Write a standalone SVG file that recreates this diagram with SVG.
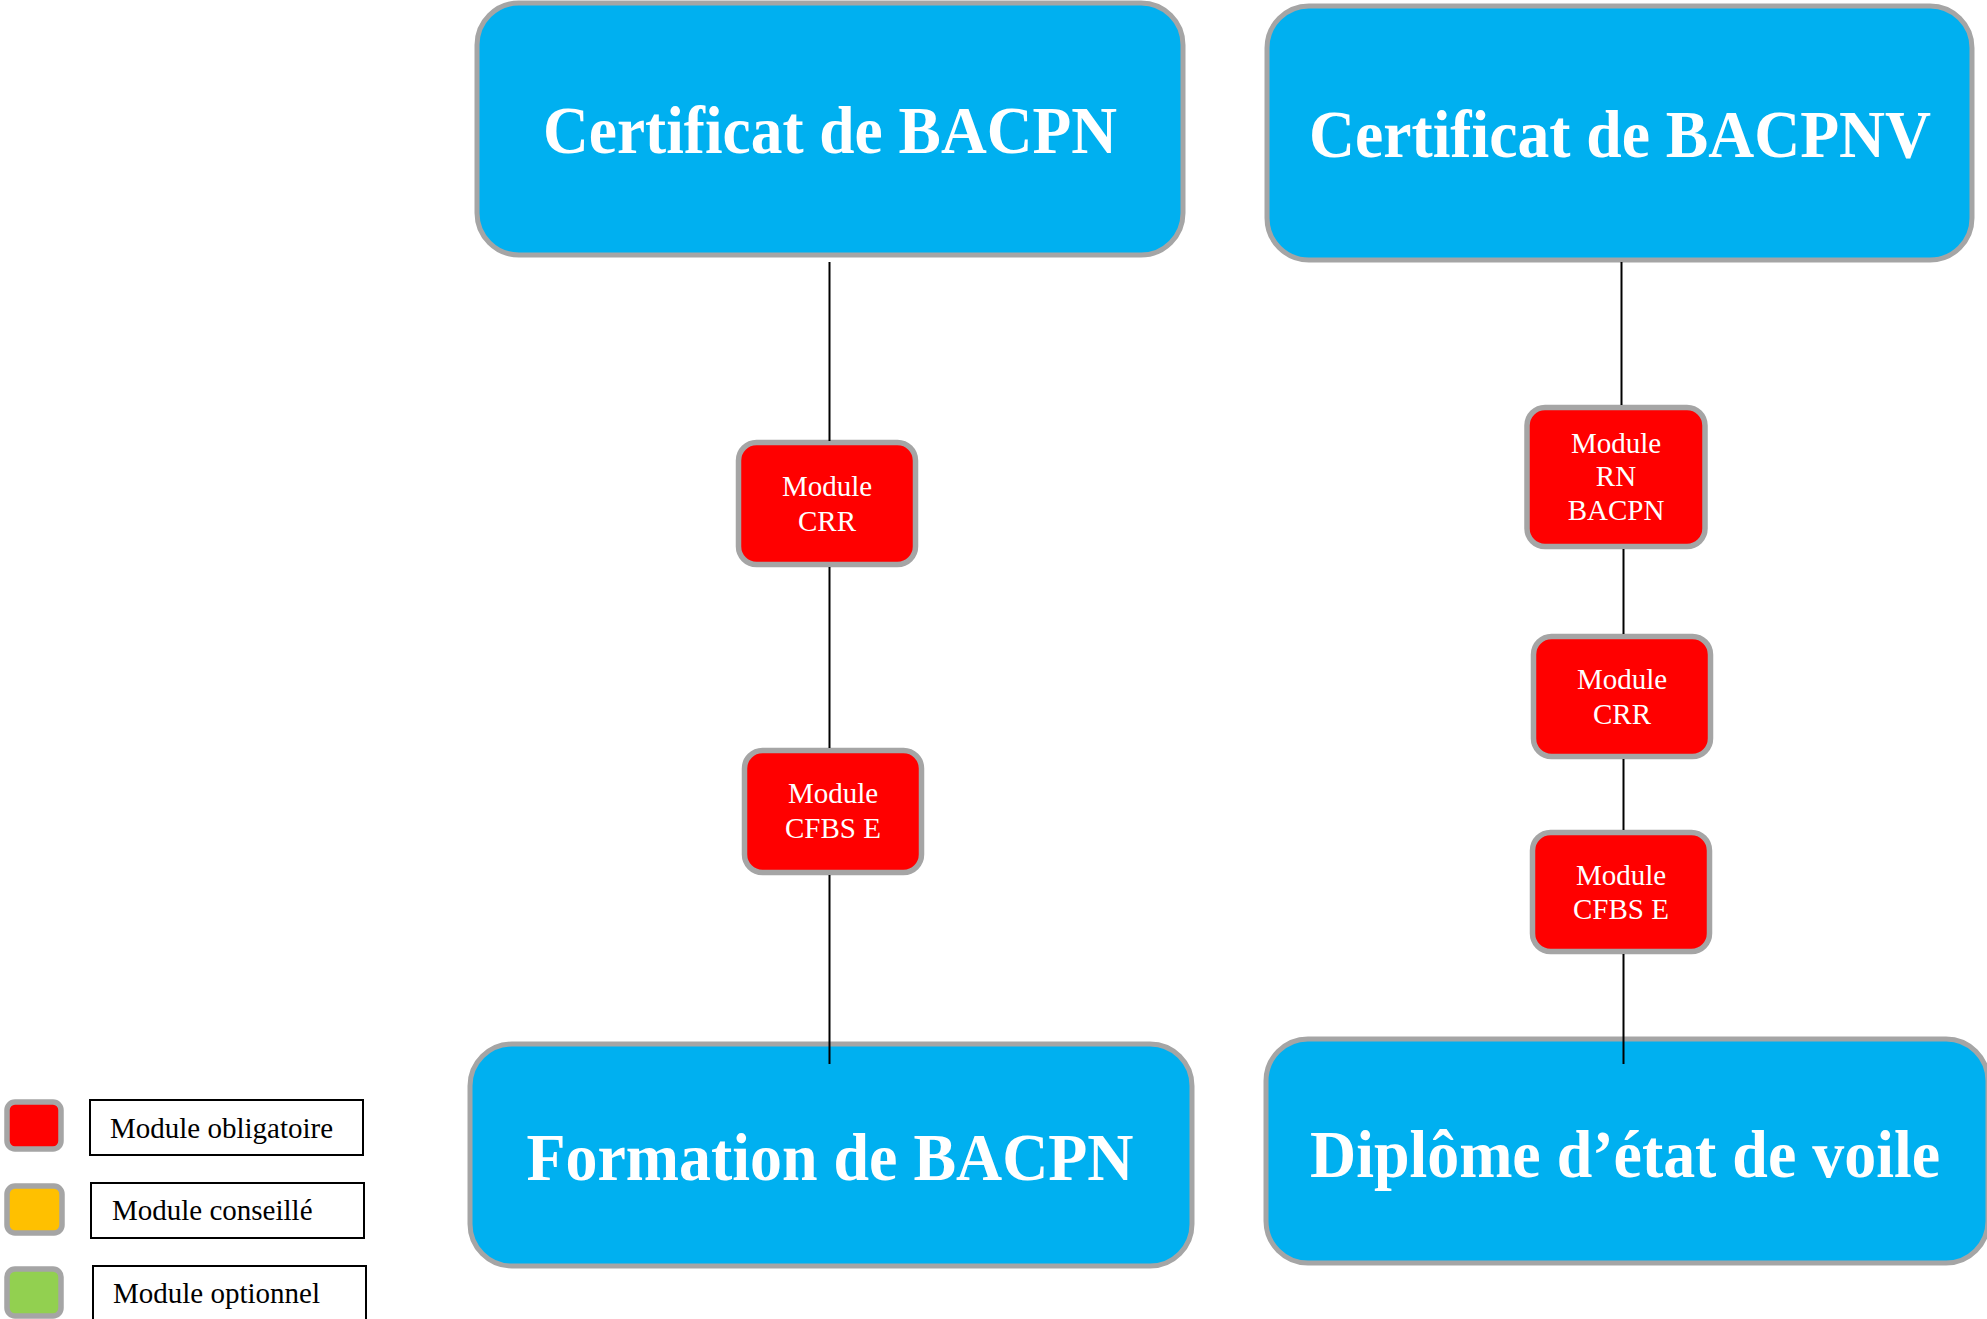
<svg xmlns="http://www.w3.org/2000/svg" width="1987" height="1319" viewBox="0 0 1987 1319">
<style>
.big{fill:#00B0F0;stroke:#A5A5A5;stroke-width:5}
.mod{fill:#FF0000;stroke:#A5A5A5;stroke-width:5.5}
.leg{fill:#FFFFFF;stroke:#000000;stroke-width:2}
.bt{font-family:"Liberation Serif","Times New Roman",serif;font-weight:bold;font-size:67px;fill:#FFFFFF;text-anchor:middle}
.mt{font-family:"Liberation Serif","Times New Roman",serif;font-size:29px;fill:#FFFFFF;text-anchor:middle}
.lt{font-family:"Liberation Serif","Times New Roman",serif;font-size:29px;fill:#000000}
.con{stroke:#000000;stroke-width:2;fill:none}
</style>
<rect width="1987" height="1319" fill="#FFFFFF"/>
<g id="cert-bacpn">
<rect class="big" x="477" y="3" width="706" height="252" rx="42"/>
<text class="bt" x="830" y="153" textLength="574" lengthAdjust="spacingAndGlyphs">Certificat de BACPN</text>
</g>
<g id="cert-bacpnv">
<rect class="big" x="1267" y="6" width="705" height="254" rx="42"/>
<text class="bt" x="1620" y="157" textLength="622" lengthAdjust="spacingAndGlyphs">Certificat de BACPNV</text>
</g>
<g id="formation-bacpn">
<rect class="big" x="470" y="1044" width="722" height="222" rx="42"/>
<text class="bt" x="830" y="1180" textLength="607" lengthAdjust="spacingAndGlyphs">Formation de BACPN</text>
</g>
<g id="diplome-voile">
<rect class="big" x="1266" y="1039" width="722" height="224" rx="42"/>
<text class="bt" x="1625" y="1177" textLength="630" lengthAdjust="spacingAndGlyphs">Diplôme d’état de voile</text>
</g>
<g id="left-crr">
<rect class="mod" x="738.5" y="442.5" width="177" height="122" rx="18"/>
<text class="mt" x="827" y="496">Module</text>
<text class="mt" x="827" y="531">CRR</text>
</g>
<g id="left-cfbs">
<rect class="mod" x="744.5" y="750.5" width="177" height="122" rx="18"/>
<text class="mt" x="833" y="803">Module</text>
<text class="mt" x="833" y="838">CFBS E</text>
</g>
<g id="right-rn">
<rect class="mod" x="1527" y="407.5" width="178" height="139" rx="18"/>
<text class="mt" x="1616" y="453">Module</text>
<text class="mt" x="1616" y="486">RN</text>
<text class="mt" x="1616" y="520">BACPN</text>
</g>
<g id="right-crr">
<rect class="mod" x="1533.5" y="636.5" width="177" height="120" rx="18"/>
<text class="mt" x="1622" y="689">Module</text>
<text class="mt" x="1622" y="724">CRR</text>
</g>
<g id="right-cfbs">
<rect class="mod" x="1532.5" y="832.5" width="177" height="119" rx="18"/>
<text class="mt" x="1621" y="885">Module</text>
<text class="mt" x="1621" y="919">CFBS E</text>
</g>
<g id="legend-obligatoire">
<rect class="mod" x="7" y="1102" width="54" height="47" rx="8"/>
<rect class="leg" x="90" y="1100" width="273" height="55"/>
<text class="lt" x="110" y="1138">Module obligatoire</text>
</g>
<g id="legend-conseille">
<rect class="mod" x="7" y="1186" width="55" height="47" rx="8" style="fill:#FFC000"/>
<rect class="leg" x="91" y="1183" width="273" height="55"/>
<text class="lt" x="112" y="1220">Module conseillé</text>
</g>
<g id="legend-optionnel">
<rect class="mod" x="7" y="1269" width="54" height="47" rx="8" style="fill:#92D050"/>
<rect class="leg" x="93" y="1266" width="273" height="60"/>
<text class="lt" x="113" y="1303">Module optionnel</text>
</g>
<g id="connectors">
<line class="con" x1="829.5" y1="262" x2="829.5" y2="441"/>
<line class="con" x1="829.5" y1="567" x2="829.5" y2="748"/>
<line class="con" x1="829.5" y1="875" x2="829.5" y2="1064"/>
<line class="con" x1="1621.5" y1="262" x2="1621.5" y2="405"/>
<line class="con" x1="1623.5" y1="549" x2="1623.5" y2="634"/>
<line class="con" x1="1623.5" y1="759" x2="1623.5" y2="830"/>
<line class="con" x1="1623.5" y1="954" x2="1623.5" y2="1064"/>
</g>
</svg>
